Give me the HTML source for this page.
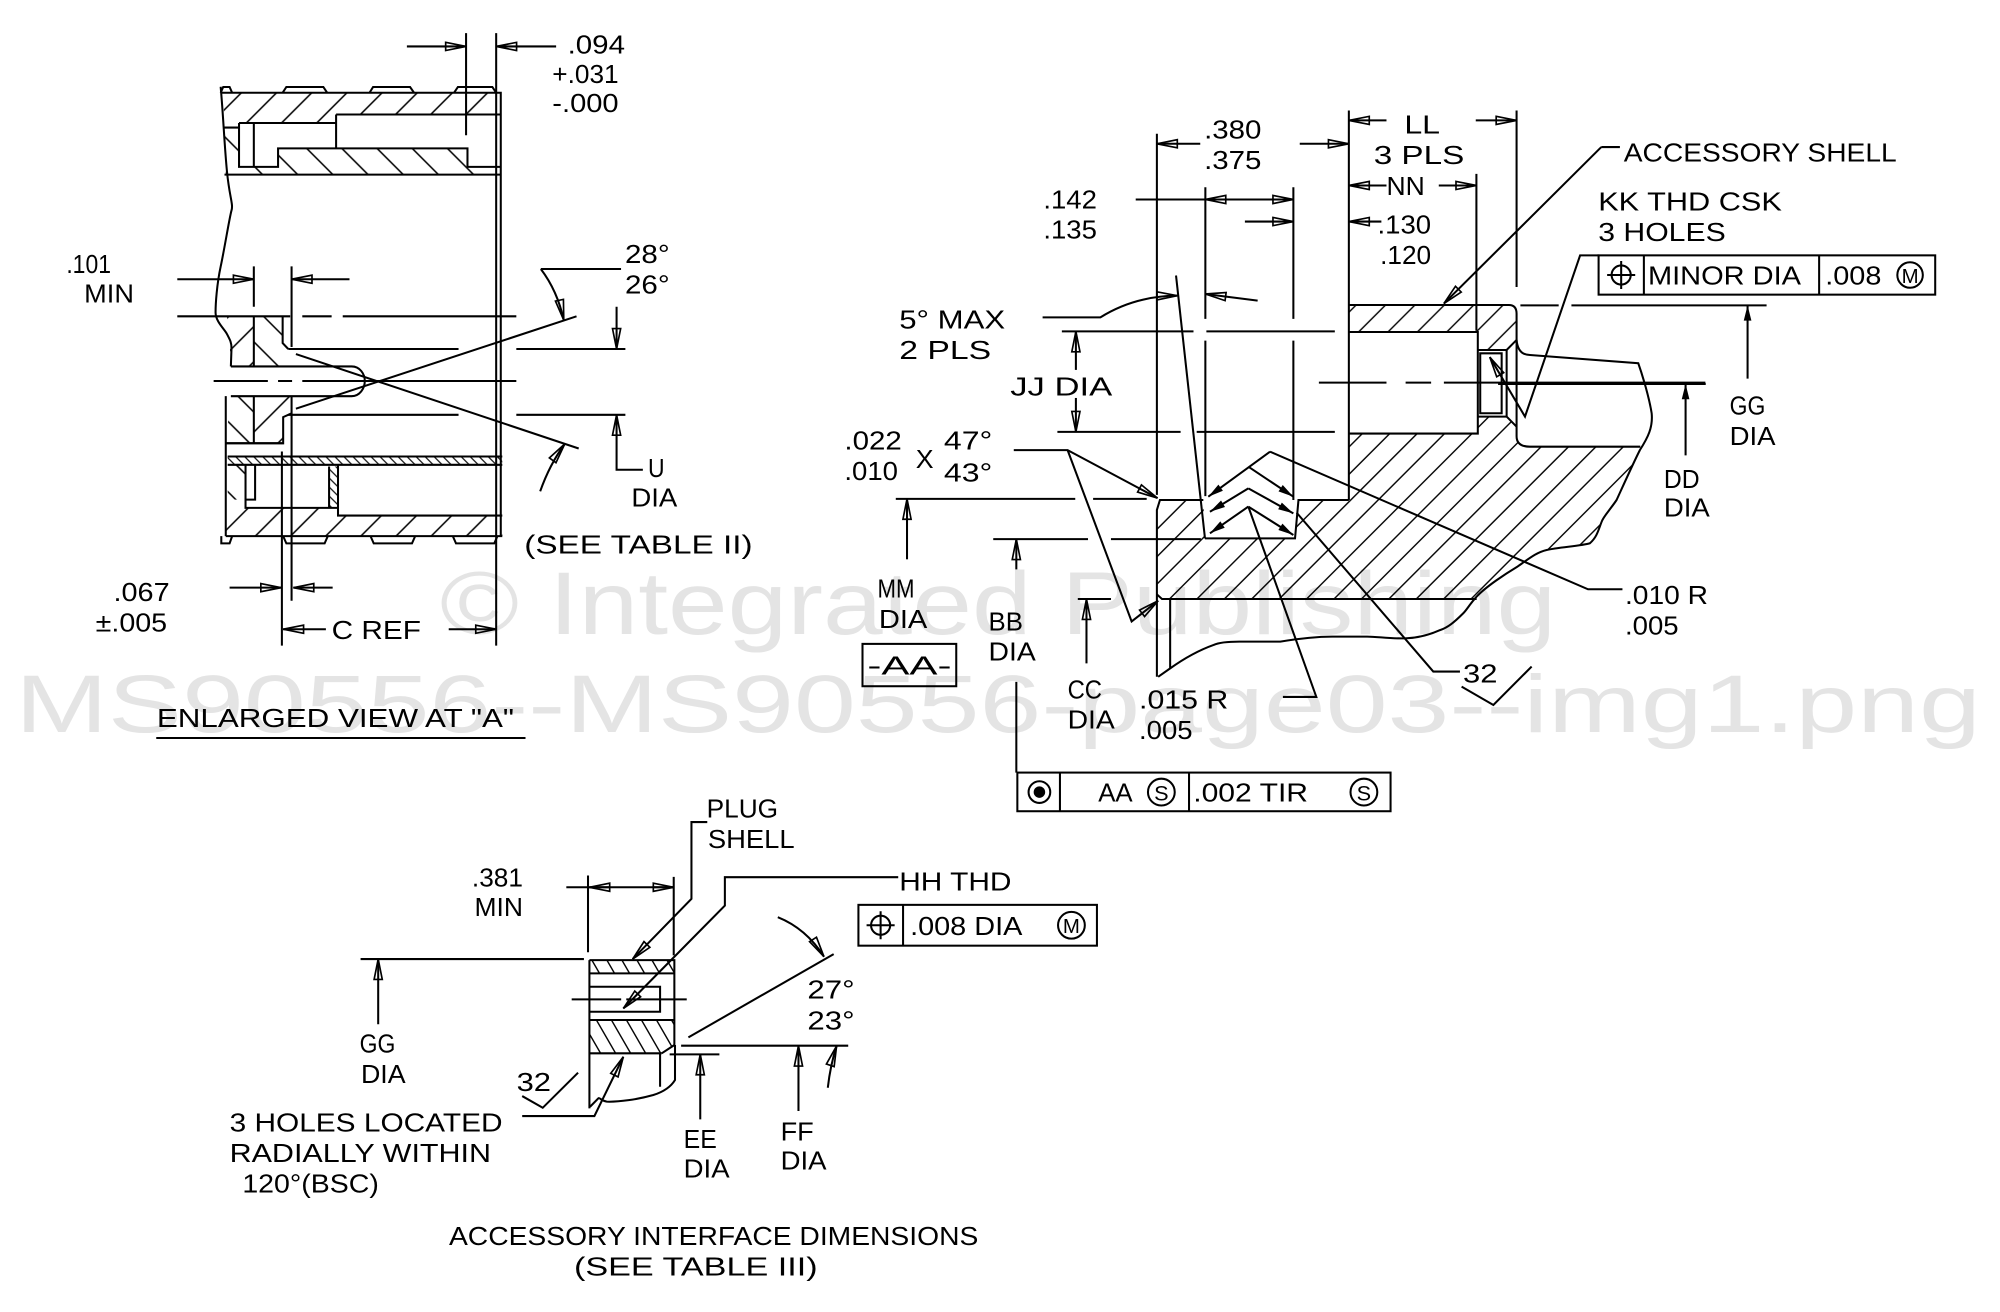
<!DOCTYPE html>
<html><head><meta charset="utf-8"><style>
html,body{margin:0;padding:0;background:#fff;}
svg{display:block;}
text{font-family:"Liberation Sans",sans-serif;font-size:20.5px;fill:#000;}
</style></head><body>
<svg xmlns="http://www.w3.org/2000/svg" width="2000" height="1312" viewBox="0 0 1568 1028.6" preserveAspectRatio="none">
<defs>
<marker id="a" markerUnits="userSpaceOnUse" markerWidth="20" markerHeight="10" refX="16" refY="4" orient="auto" overflow="visible"><path d="M0,0.8 L16,4 L0,7.2 Z" fill="none" stroke="#000" stroke-width="1.3"/></marker>
<marker id="f" markerUnits="userSpaceOnUse" markerWidth="16" markerHeight="8" refX="12" refY="3" orient="auto" overflow="visible"><path d="M0,0 L12,3 L0,6 Z" fill="#000"/></marker>
<pattern id="p1" patternUnits="userSpaceOnUse" width="19.5" height="19.5" patternTransform="rotate(45)"><line x1="9.75" y1="-1" x2="9.75" y2="21" stroke="#000" stroke-width="1.2"/></pattern>
<pattern id="p2" patternUnits="userSpaceOnUse" width="19.5" height="19.5" patternTransform="rotate(-45)"><line x1="9.75" y1="-1" x2="9.75" y2="21" stroke="#000" stroke-width="1.2"/></pattern>
<pattern id="p3" patternUnits="userSpaceOnUse" width="5" height="5" patternTransform="rotate(-45)"><line x1="2.5" y1="-1" x2="2.5" y2="6" stroke="#000" stroke-width="0.9"/></pattern>
<pattern id="p4" patternUnits="userSpaceOnUse" width="15.2" height="15.2" patternTransform="rotate(45)"><line x1="7.6" y1="-1" x2="7.6" y2="17" stroke="#000" stroke-width="1.1"/></pattern>
<pattern id="p5" patternUnits="userSpaceOnUse" width="16.3" height="16.3" patternTransform="rotate(45)"><line x1="8.1" y1="-1" x2="8.1" y2="18" stroke="#000" stroke-width="1.1"/></pattern>
<pattern id="p6" patternUnits="userSpaceOnUse" width="10.2" height="10.2" patternTransform="rotate(-30)"><line x1="5.1" y1="-1" x2="5.1" y2="12" stroke="#000" stroke-width="1.1"/></pattern>
</defs>

<!-- watermark -->
<text x="345" y="497" style="font-size:70px;fill:#e4e4e4" textLength="875" lengthAdjust="spacingAndGlyphs">© Integrated Publishing</text>
<text x="12" y="574" style="font-size:64px;fill:#e4e4e4" textLength="1541" lengthAdjust="spacingAndGlyphs">MS90556--MS90556-page03--img1.png</text>

<!-- ===== LEFT VIEW hatch ===== -->
<g stroke="none">
<path d="M175,72.7 H392.6 V89.8 H263.5 V96.4 H187.4 V100 H176 Z" fill="url(#p1)"/>
<path d="M176,100 H187.4 V136.9 H177 Z" fill="url(#p2)"/>
<path d="M187.4,130.8 H218 V116.3 H366.5 V130.8 H389 V136.9 H187.4 Z" fill="url(#p2)"/>
<path d="M178,248 H199 V287.3 H181 L180,268 Z" fill="url(#p1)"/>
<path d="M199,248 H221.6 V269 L228.6,275 V287.3 H199 Z" fill="url(#p2)"/>
<path d="M181,310.6 H199 V347.6 H177 Z" fill="url(#p2)"/>
<path d="M199,310.6 H228.6 V324 L222,327 V347.6 H199 Z" fill="url(#p1)"/>
<rect x="178.5" y="357.9" width="215.3" height="6.5" fill="url(#p3)"/>
<path d="M178.5,364.4 H192.5 V391.7 H178.5 Z" fill="url(#p2)"/>
<rect x="258" y="365.7" width="7" height="32.5" fill="url(#p3)"/>
<path d="M178.5,391.7 H192.5 V398.2 H265 V404.2 H393.8 V420.3 H177 Z" fill="url(#p1)"/>
</g>

<!-- ===== LEFT VIEW lines ===== -->
<g fill="none" stroke="#000" stroke-width="1.6">
<path d="M365.4,26 V106 M389,26 V506.2"/>
<path d="M319,36.4 H365.4" marker-end="url(#a)"/>
<path d="M436,36.4 H389" marker-end="url(#a)"/>
<path d="M173,72.7 L175,68.2 L180,68.2 L182,72.7 M221.6,72.7 L224.5,68.2 L253.5,68.2 L256.5,72.7 M289.7,72.7 L292.5,68.2 L321.5,68.2 L324.6,72.7 M356,72.7 L359,68.2 L386,68.2 L389,72.7"/>
<path d="M173,72.7 H392.6 V420.3"/>
<path d="M173,68 C175,90 176,115 178,135 S183,160 181.5,165 S176,195 173,209 S169,238 169,245 S176,258 178,262 S181.5,268 181.5,273 L181,287.3"/>
<path d="M263.5,89.8 H392.6 M263.5,89.8 V116.3 M187.4,96.4 H263.5 M187.4,96.4 V130.8 H218 V116.3 H366.5 V130.8 H392.6 M199,96.4 V130.8 M176,136.9 H392.6 M176,100 H187.4"/>
<path d="M199,208.8 V240.5 M228.6,208.8 V272 M228.6,310.6 V471"/>
<path d="M139,218.9 H199" marker-end="url(#a)"/>
<path d="M274,218.9 H228.6" marker-end="url(#a)"/>
<path d="M139,248 H227.5 M237,248 H260 M268.7,248 H404.8"/>
<path d="M221.6,248 V269 L226,273.6"/>
<path d="M199,248 V287.3 M199,310.6 V347.6"/>
<path d="M181,287.3 H275.7 C282,287.3 286,293 286,298.7 C286,304.5 282,310.6 275.7,310.6 H181"/>
<path d="M167.5,298.7 H210 M218,298.7 H229 M237,298.7 H404.8"/>
<path d="M228.6,324 L222,327 V347.6 H177"/>
<path d="M226,273.6 H359.5 M404.8,273.6 H490.3 M226,325.2 H359.5 M404.8,325.2 H490.3"/>
<path d="M232,277.6 L453.7,351.6 M232,320.4 L452,248"/>
<path d="M486.9,210.9 H424"/>
<path d="M424,210.9 Q437,228 442,251" marker-end="url(#a)"/>
<path d="M483.4,240.5 V273.6" marker-end="url(#a)"/>
<path d="M504,368.3 H483.4 V325.2" marker-end="url(#a)"/>
<path d="M423.5,385.2 Q431,364 442.8,348" marker-end="url(#a)"/>
<path d="M177,310.6 V420.3 M177,347.4 H222 M178.5,357.9 H393.8 M178.5,364.4 H393.8"/>
<path d="M192.5,364.4 V398.2 H265 M200,364.4 V391.7 H192.5 M265,364.4 V404.2 H393.8 M258,365.7 V398.2"/>
<path d="M177,420.3 H393.8"/>
<path d="M173.5,420.3 L173.5,426 L180,426 L182,420.3 M222,420.3 L224.5,426 L254.5,426 L257,420.3 M290.5,420.3 L293,426 L323,426 L325.5,420.3 M355,420.3 L357.5,426 L387.5,426 L390,420.3"/>
<path d="M221,354 V506.2"/>
<path d="M180,460.7 H220.5" marker-end="url(#a)"/>
<path d="M260.8,460.7 H230" marker-end="url(#a)"/>
<path d="M255.5,493.3 H222" marker-end="url(#a)"/>
<path d="M351.8,493.3 H389" marker-end="url(#a)"/>
<path d="M122.5,578.6 H412"/>
</g>

<!-- left view text -->
<text x="445" y="42" textLength="45" lengthAdjust="spacingAndGlyphs">.094</text>
<text x="433" y="65" textLength="52" lengthAdjust="spacingAndGlyphs">+.031</text>
<text x="433" y="88" textLength="52" lengthAdjust="spacingAndGlyphs">-.000</text>
<text x="52" y="214" textLength="35" lengthAdjust="spacingAndGlyphs">.101</text>
<text x="66" y="237" textLength="39" lengthAdjust="spacingAndGlyphs">MIN</text>
<text x="490" y="206" textLength="35" lengthAdjust="spacingAndGlyphs">28°</text>
<text x="490" y="230" textLength="35" lengthAdjust="spacingAndGlyphs">26°</text>
<text x="508" y="374" textLength="13" lengthAdjust="spacingAndGlyphs">U</text>
<text x="495" y="397" textLength="36" lengthAdjust="spacingAndGlyphs">DIA</text>
<text x="411" y="434" textLength="179" lengthAdjust="spacingAndGlyphs">(SEE TABLE II)</text>
<text x="89" y="471" textLength="44" lengthAdjust="spacingAndGlyphs">.067</text>
<text x="75" y="495" textLength="56" lengthAdjust="spacingAndGlyphs">±.005</text>
<text x="260" y="501" textLength="70" lengthAdjust="spacingAndGlyphs">C REF</text>
<text x="123" y="570" textLength="280" lengthAdjust="spacingAndGlyphs">ENLARGED VIEW AT "A"</text>

<!-- ===== RIGHT VIEW hatch ===== -->
<g stroke="none">
<path d="M909.4,392 H943.4 L944.7,422.1 H1015.3 L1018,392 H1057.5 V339.9 H1158.6 V326.6 H1181.2 L1189,334.5 V342 Q1189,350.2 1199.5,350.2 H1286 C1281,362 1272,382 1267.4,392 C1262,400 1257,405 1255.7,409 C1253,416 1252,421 1246.5,425.9 C1240,428 1222,429 1212.6,431.2 C1205,433 1200,437 1190,444 C1180,450 1165,460 1157.7,467.7 L1157.7,469.6 H911 L907,466 V399.8 Z" fill="url(#p4)"/>
<path d="M1057.5,239.1 H1183 Q1189,239.1 1189,246 V266.5 L1181.2,274.4 H1158.6 V260.3 H1057.5 Z" fill="url(#p5)"/>
</g>

<!-- ===== RIGHT VIEW lines ===== -->
<g fill="none" stroke="#000" stroke-width="1.6">
<path d="M907,104.9 V388 M1057.5,86.6 V392 M1189,86.6 V225 M1157.5,136.3 V259.3"/>
<path d="M941,112.7 H907" marker-end="url(#a)"/>
<path d="M1019,112.7 H1057.5" marker-end="url(#a)"/>
<path d="M1087,94.4 H1057.5" marker-end="url(#a)"/>
<path d="M1157,94.4 H1189" marker-end="url(#a)"/>
<path d="M1087,145.4 H1057.5" marker-end="url(#a)"/>
<path d="M1128,145.4 H1157.5" marker-end="url(#a)"/>
<path d="M1083,173.7 H1057.5" marker-end="url(#a)"/>
<path d="M945,146.8 V250 M945,267 V389 M1014,146.8 V250 M1014,267 V392"/>
<path d="M890.4,156.4 H1014"/>
<path d="M962,156.4 H945" marker-end="url(#a)"/>
<path d="M995,156.4 H1014" marker-end="url(#a)"/>
<path d="M976,173.7 H1014" marker-end="url(#a)"/>
<path d="M817.4,248.8 H862.7 C880,238 900,232 923,231.8" marker-end="url(#a)"/>
<path d="M986,235.7 L945,230.5" marker-end="url(#a)"/>
<path d="M922,216 L944.7,422.1"/>
<path d="M832.5,259.8 H935.7 M945.8,259.8 H1046.5 M829,338.6 H925.6 M938.2,338.6 H1046.5"/>
<path d="M843.5,290 V259.8" marker-end="url(#a)"/>
<path d="M843.5,312 V338.6" marker-end="url(#a)"/>
<path d="M1034,300 H1087 M1102,300 H1122 M1132,300 H1337"/>
<path d="M1057.5,239.1 H1183 Q1189,239.1 1189,246 V342 Q1189,350.2 1199.5,350.2 H1286"/>
<path d="M1189,266.5 L1181.2,274.4 H1158.6"/>
<path d="M1057.5,260.3 H1158.6 V339.9 H1057.5"/>
<path d="M1158.6,274.4 H1181.2 V326.6 H1158.6 M1160.5,277 H1177.3 V324 H1160.5 Z M1181.2,326.6 L1189,334.5"/>
<path d="M1189,266.5 Q1190,278.3 1199.5,278.3 L1284.4,284.8 C1288,295 1293,312 1294.9,324 C1296,335 1292,343 1285.7,352.8 C1281,362 1272,382 1267.4,392 C1262,400 1257,405 1255.7,409 C1253,416 1252,421 1246.5,425.9 C1240,428 1222,429 1212.6,431.2 C1205,433 1200,437 1190,444 C1180,450 1165,460 1157.7,467.7 C1152,474 1150,478 1147.2,480.8 C1140,488 1135,492 1129,494 C1120,498 1112,500 1102.8,500.4 C1090,501 1080,499 1071.5,499.1 L1045.3,499.1 C1030,499 1010,502 1003.8,503 L971.6,503 C960,503 955,504 951.5,505.6 C942,509 930,515 917.4,524 L908,530.6"/>
<path d="M907,530.6 V399.8 L909.4,392 H943.4 M944.7,422.1 H1015.3 L1018,392 H1057.5"/>
<path d="M917.4,469.6 V524 M907,466 L911,469.6 H1157.7 M845,469.6 H871"/>
<path d="M702.3,391.1 H843 M857,391.1 H899 M778.7,422.7 H853 M871,422.7 H941.5"/>
<path d="M711.1,438.5 V391.1" marker-end="url(#a)"/>
<path d="M796.8,446.4 V422.7" marker-end="url(#a)"/>
<path d="M796.8,534.6 V605.7"/>
<path d="M851.8,520.1 V469.6" marker-end="url(#a)"/>
<path d="M794.8,352.9 H837 L907.5,390.5" marker-end="url(#a)"/>
<path d="M837,352.9 L887.2,487.2 L908,471" marker-end="url(#a)"/>
<path d="M995.7,354.1 L947.3,389.4" marker-end="url(#f)"/>
<path d="M995.7,354.1 L1245,462 H1272"/>
<path d="M978.7,365.9 L1014,389.4" marker-end="url(#f)"/>
<path d="M978.7,382.9 L948.6,401.2" marker-end="url(#f)"/>
<path d="M978.7,382.9 L1014,402.5" marker-end="url(#f)"/>
<path d="M978.7,397.2 L948.6,418.1" marker-end="url(#f)"/>
<path d="M978.7,397.2 L1014,419.4" marker-end="url(#f)"/>
<path d="M978.7,397.2 L1032,546.4 H1005.8"/>
<path d="M1016.6,402 L1123.7,526.5 H1144.6"/>
<path d="M1145.9,538.3 L1170.8,552.7 L1200.8,522.6"/>
<path d="M1270,115.3 H1255.4"/>
<path d="M1255.4,115.3 L1132,238" marker-end="url(#a)"/>
<path d="M1253.3,200.2 H1238.8 L1195.6,326.6 L1168,280" marker-end="url(#a)"/>
<rect x="1253.3" y="200.2" width="263.9" height="30.8"/>
<path d="M1288.8,200.2 V231 M1426.2,200.2 V231"/>
<circle cx="1271" cy="215.6" r="7.5"/>
<path d="M1260,215.6 H1282 M1271,204.6 V226.6"/>
<circle cx="1497.5" cy="215.6" r="10"/>
<path d="M1192,239.4 H1222 M1232,239.4 H1385 M1174.5,301 H1337.3"/>
<path d="M1370.1,296.8 V239.4" marker-end="url(#f)"/>
<path d="M1321.5,357 V301" marker-end="url(#f)"/>
<rect x="676.2" y="504.8" width="73.5" height="33.2"/>
<rect x="797.6" y="605.7" width="292.6" height="30.3"/>
<path d="M831,605.7 V636 M932.2,605.7 V636"/>
<circle cx="814.9" cy="621" r="8.5"/>
<circle cx="910.5" cy="621" r="10.5"/>
<circle cx="1069.3" cy="621" r="10.5"/>
</g>
<circle cx="814.9" cy="621" r="4.5" fill="#000"/>

<!-- right view text -->
<text x="944" y="108.5" textLength="45" lengthAdjust="spacingAndGlyphs">.380</text>
<text x="944" y="132.5" textLength="45" lengthAdjust="spacingAndGlyphs">.375</text>
<text x="1101" y="104.5" textLength="28" lengthAdjust="spacingAndGlyphs">LL</text>
<text x="1077" y="128.5" textLength="71" lengthAdjust="spacingAndGlyphs">3 PLS</text>
<text x="1087" y="153" textLength="30" lengthAdjust="spacingAndGlyphs">NN</text>
<text x="1080" y="183" textLength="42" lengthAdjust="spacingAndGlyphs">.130</text>
<text x="1082" y="207" textLength="40" lengthAdjust="spacingAndGlyphs">.120</text>
<text x="818" y="163.5" textLength="42" lengthAdjust="spacingAndGlyphs">.142</text>
<text x="818" y="187" textLength="42" lengthAdjust="spacingAndGlyphs">.135</text>
<text x="705" y="257.5" textLength="83" lengthAdjust="spacingAndGlyphs">5° MAX</text>
<text x="705" y="281.5" textLength="72" lengthAdjust="spacingAndGlyphs">2 PLS</text>
<text x="792" y="310" textLength="80" lengthAdjust="spacingAndGlyphs">JJ DIA</text>
<text x="1273" y="126.5" textLength="214" lengthAdjust="spacingAndGlyphs">ACCESSORY SHELL</text>
<text x="1253" y="165" textLength="144" lengthAdjust="spacingAndGlyphs">KK THD CSK</text>
<text x="1253" y="189" textLength="100" lengthAdjust="spacingAndGlyphs">3 HOLES</text>
<text x="1292" y="223" textLength="120" lengthAdjust="spacingAndGlyphs">MINOR DIA</text>
<text x="1431" y="223" textLength="44" lengthAdjust="spacingAndGlyphs">.008</text>
<text x="1497.5" y="222" text-anchor="middle" style="font-size:16px">M</text>
<text x="1356" y="325" textLength="28" lengthAdjust="spacingAndGlyphs">GG</text>
<text x="1356" y="349" textLength="36" lengthAdjust="spacingAndGlyphs">DIA</text>
<text x="1304.5" y="382.7" textLength="28" lengthAdjust="spacingAndGlyphs">DD</text>
<text x="1304.5" y="405" textLength="36" lengthAdjust="spacingAndGlyphs">DIA</text>
<text x="1274" y="473.5" textLength="65" lengthAdjust="spacingAndGlyphs">.010 R</text>
<text x="1274" y="497.5" textLength="42" lengthAdjust="spacingAndGlyphs">.005</text>
<text x="662" y="352.5" textLength="45" lengthAdjust="spacingAndGlyphs">.022</text>
<text x="718" y="367" textLength="14" lengthAdjust="spacingAndGlyphs">X</text>
<text x="662" y="376.5" textLength="42" lengthAdjust="spacingAndGlyphs">.010</text>
<text x="740" y="352.5" textLength="38" lengthAdjust="spacingAndGlyphs">47°</text>
<text x="740" y="377.5" textLength="38" lengthAdjust="spacingAndGlyphs">43°</text>
<text x="688" y="468.5" textLength="29" lengthAdjust="spacingAndGlyphs">MM</text>
<text x="689" y="492.5" textLength="38" lengthAdjust="spacingAndGlyphs">DIA</text>
<text x="680" y="529" textLength="66" lengthAdjust="spacingAndGlyphs">-AA-</text>
<text x="775" y="494.5" textLength="27" lengthAdjust="spacingAndGlyphs">BB</text>
<text x="775" y="518" textLength="37" lengthAdjust="spacingAndGlyphs">DIA</text>
<text x="837" y="547.5" textLength="27" lengthAdjust="spacingAndGlyphs">CC</text>
<text x="837" y="571" textLength="37" lengthAdjust="spacingAndGlyphs">DIA</text>
<text x="893" y="555.5" textLength="70" lengthAdjust="spacingAndGlyphs">.015 R</text>
<text x="893" y="579.5" textLength="42" lengthAdjust="spacingAndGlyphs">.005</text>
<text x="1147" y="535" textLength="27" lengthAdjust="spacingAndGlyphs">32</text>
<text x="861" y="628.5" textLength="27" lengthAdjust="spacingAndGlyphs">AA</text>
<text x="910.5" y="627.5" text-anchor="middle" style="font-size:17px">S</text>
<text x="935.5" y="628.5" textLength="90" lengthAdjust="spacingAndGlyphs">.002 TIR</text>
<text x="1069.3" y="627.5" text-anchor="middle" style="font-size:17px">S</text>

<!-- ===== BOTTOM VIEW hatch ===== -->
<g stroke="none">
<rect x="462.1" y="752.7" width="66.6" height="10.4" fill="url(#p6)"/>
<path d="M462.1,799.7 H528.7 V819.3 L518.8,825.8 H462.1 Z" fill="url(#p6)"/>
</g>

<!-- ===== BOTTOM VIEW lines ===== -->
<g fill="none" stroke="#000" stroke-width="1.6">
<path d="M461,686.4 V746.6 M528.2,687.5 V749"/>
<path d="M444,695.6 H528.2"/>
<path d="M478,695.6 H462" marker-end="url(#a)"/>
<path d="M512,695.6 H528.2" marker-end="url(#a)"/>
<path d="M462.1,752.7 H528.7 V819.3 L518.8,825.8 M462.1,752.7 V869"/>
<path d="M462.1,763.1 H528.7 M462.1,773.6 H517.5 V793.2 H462.1 M462.1,799.7 H528.7 M462.1,825.8 H518.8 M517.5,825.8 V852"/>
<path d="M529.2,819.3 V846.7 C526,852 520,856 512.2,858.5 C500,862 485,864 475.7,863.7 C471,863 470,860 469.1,861.1 L462.6,867.7"/>
<path d="M448.2,783.5 H487 M491,783.5 H538.4"/>
<path d="M554.5,644.5 H542.1 V704.7 L496,751.9" marker-end="url(#a)"/>
<path d="M704.2,687.7 H568.3 V710 L488.7,790.6" marker-end="url(#a)"/>
<path d="M282.7,751.9 H457.8"/>
<path d="M296.5,803 V751.9" marker-end="url(#a)"/>
<path d="M539.7,813.3 L653.6,748"/>
<path d="M609.8,719.1 Q632,728 646,750" marker-end="url(#a)"/>
<path d="M534,819.8 H665 M525,826.6 H564"/>
<path d="M549,877.6 V826.6" marker-end="url(#a)"/>
<path d="M626,871 V819.8" marker-end="url(#a)"/>
<path d="M649,852.8 Q651,835 655.9,820" marker-end="url(#a)"/>
<path d="M409.4,859.3 L425.5,868.5 L453.2,841"/>
<path d="M409.4,875 H466 L488.7,828.5" marker-end="url(#a)"/>
<rect x="673" y="709.4" width="187" height="32"/>
<path d="M708,709.4 V741.4"/>
<circle cx="690.4" cy="725.4" r="7.5"/>
<path d="M679.4,725.4 H701.4 M690.4,714.4 V736.4"/>
<circle cx="840" cy="725.4" r="10.5"/>
</g>

<!-- bottom view text -->
<text x="554" y="641" textLength="56" lengthAdjust="spacingAndGlyphs">PLUG</text>
<text x="555" y="665" textLength="68" lengthAdjust="spacingAndGlyphs">SHELL</text>
<text x="370" y="695" textLength="40" lengthAdjust="spacingAndGlyphs">.381</text>
<text x="372" y="718" textLength="38" lengthAdjust="spacingAndGlyphs">MIN</text>
<text x="705" y="698" textLength="88" lengthAdjust="spacingAndGlyphs">HH THD</text>
<text x="713.5" y="733" textLength="88" lengthAdjust="spacingAndGlyphs">.008 DIA</text>
<text x="840" y="731.5" text-anchor="middle" style="font-size:16px">M</text>
<text x="282" y="825" textLength="28" lengthAdjust="spacingAndGlyphs">GG</text>
<text x="283" y="849" textLength="35" lengthAdjust="spacingAndGlyphs">DIA</text>
<text x="633" y="783" textLength="37" lengthAdjust="spacingAndGlyphs">27°</text>
<text x="633" y="807" textLength="37" lengthAdjust="spacingAndGlyphs">23°</text>
<text x="405" y="855.5" textLength="27" lengthAdjust="spacingAndGlyphs">32</text>
<text x="536" y="900" textLength="26" lengthAdjust="spacingAndGlyphs">EE</text>
<text x="536" y="923" textLength="36" lengthAdjust="spacingAndGlyphs">DIA</text>
<text x="612" y="894" textLength="26" lengthAdjust="spacingAndGlyphs">FF</text>
<text x="612" y="917" textLength="36" lengthAdjust="spacingAndGlyphs">DIA</text>
<text x="180" y="887" textLength="214" lengthAdjust="spacingAndGlyphs">3 HOLES LOCATED</text>
<text x="180" y="911" textLength="205" lengthAdjust="spacingAndGlyphs">RADIALLY WITHIN</text>
<text x="190" y="935" textLength="107" lengthAdjust="spacingAndGlyphs">120°(BSC)</text>
<text x="352" y="976" textLength="415" lengthAdjust="spacingAndGlyphs">ACCESSORY INTERFACE DIMENSIONS</text>
<text x="450" y="1000" textLength="191" lengthAdjust="spacingAndGlyphs">(SEE TABLE III)</text>
</svg>
</body></html>
